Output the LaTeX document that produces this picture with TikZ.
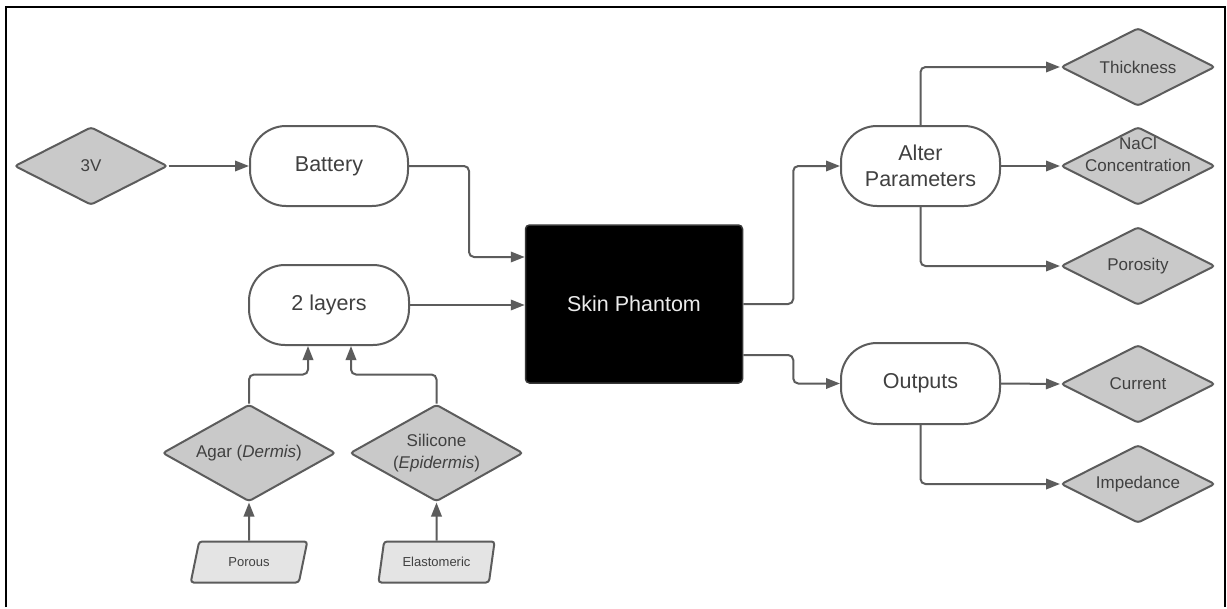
\documentclass[tikz,border=0pt]{standalone}
\usepackage{fontspec}
\setmainfont{Liberation Sans}
\usetikzlibrary{shapes.geometric,arrows.meta}
\definecolor{edge}{HTML}{5C5C5C}
\definecolor{ink}{HTML}{404040}
\definecolor{dfill}{HTML}{C9C9C9}
\definecolor{pfill}{HTML}{E4E4E4}

\begin{document}
\begin{tikzpicture}[x=1pt,y=-1pt,
  big/.style={font=\fontsize{21.5}{26}\selectfont},
  mid/.style={font=\fontsize{17}{22}\selectfont},
  small/.style={font=\fontsize{13}{15}\selectfont},
  term/.style={draw=edge, line width=2pt, fill=white, rounded corners=36pt,
    minimum width=158pt, minimum height=80pt, inner sep=0pt,
    text=ink, big, align=center},
  dec/.style={shape=diamond, aspect=2, draw=edge, line width=2pt, fill=dfill,
    rounded corners=3pt, minimum width=154pt, minimum height=78pt,
    inner sep=0pt, text=ink, mid, align=center},
  io/.style={trapezium, trapezium left angle=69, trapezium right angle=111,
    trapezium stretches, draw=edge, line width=2pt, fill=pfill,
    rounded corners=3pt, minimum width=117pt, minimum height=41pt,
    inner sep=0pt, text=ink, small},
  link/.style={draw=edge, line width=2pt, rounded corners=5pt,
    -{Triangle[length=14pt,width=10.5pt]}},
]
% canvas and frame
\fill[white] (0,0) rectangle (1227,607);
\draw[line width=2.5pt, black] (6,607) -- (6,7) -- (1225,7) -- (1225,607);

% inputs
\node[dec, minimum width=153pt] (v3) at (91,166) {3V};
\node[term] (bat) at (329,166) {Battery};
\node[term, minimum width=160pt] (lay) at (329,305) {2 layers};
\node[dec, aspect=1.78, minimum width=173pt, minimum height=97pt] (agar) at (249,453) {Agar (\textit{Dermis})};
\node[dec, aspect=1.78, minimum width=173pt, minimum height=97pt] (sil) at (436.5,453) {Silicone\\(\textit{Epidermis})};
\node[io] (por) at (249,562) {Porous};
\node[io] (ela) at (436.5,562) {Elastomeric};

% central block
\node[draw=edge!60!black, fill=black, line width=1.5pt, rounded corners=4pt,
  minimum width=217pt, minimum height=158pt, text=white!92!black, big] (skin) at (634,304) {Skin Phantom};

% outputs side
\node[term, minimum width=159pt] (alter) at (920.5,166) {Alter\\Parameters};
\node[term, minimum width=159pt, minimum height=81pt] (out) at (920.5,383.5) {Outputs};
\node[dec] (thick) at (1138,67) {Thickness};
\node[dec] (nacl) at (1138,166) {};
\node[mid, text=ink, align=center] (nacltxt) at ([yshift=12pt]nacl.center) {NaCl\\Concentration};
\node[dec] (poros) at (1138,266) {Porosity};
\node[dec] (cur) at (1138,384) {Current};
\node[dec] (imp) at (1138,484) {Impedance};

% connectors
\draw[link] (v3.east) -- (bat.west);
\draw[link] (bat.east) -- ++(60,0) |- ([yshift=47pt]skin.west);
\draw[link] (lay.east) -- (lay.east -| skin.west);
\draw[link] (agar.north) -- ++(0,-29) -| ([xshift=-21pt]lay.south);
\draw[link] (sil.north) -- ++(0,-29) -| ([xshift=22pt]lay.south);
\draw[link] (por.north) -- (agar.south);
\draw[link] (ela.north) -- (sil.south);
\draw[link] (skin.east) -- ++(50,0) |- (alter.west);
\draw[link] ([yshift=-51pt]skin.east) -- ++(50,0) |- (out.west);
\draw[link] (alter.north) |- (thick.west);
\draw[link] (alter.east) -- (nacl.west);
\draw[link] (alter.south) |- (poros.west);
\draw[link] (out.east) -- (cur.west);
\draw[link] (out.south) |- (imp.west);
\end{tikzpicture}
\end{document}
